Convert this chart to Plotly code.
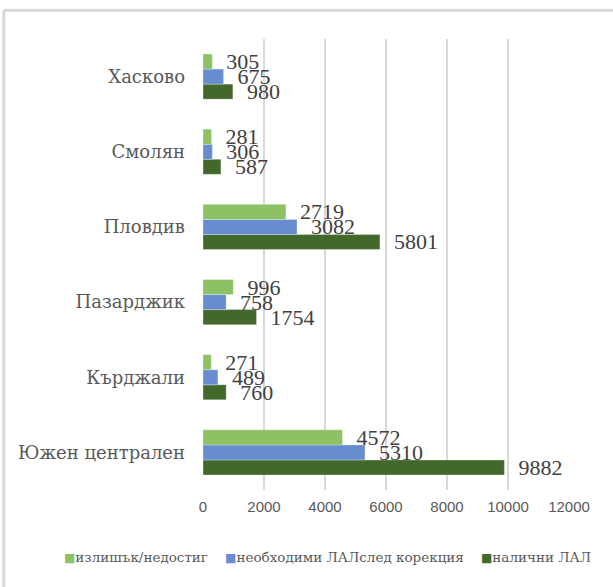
import plotly.graph_objects as go

# Данни (отгоре надолу в графиката: Хасково ... Южен централен)
regions = ["Южен централен", "Кърджали", "Пазарджик", "Пловдив", "Смолян", "Хасково"]
izlishak = [4572, 271, 996, 2719, 281, 305]
neobhodimi = [5310, 489, 758, 3082, 306, 675]
nalichni = [9882, 760, 1754, 5801, 587, 980]

x_ticks = [0, 2000, 4000, 6000, 8000, 10000, 12000]

SERIF = "Liberation Serif, Times New Roman, serif"
WIDE_SERIF = "DejaVu Serif, serif"
NBSP = "\u00a0"

series = [
    ("налични ЛАЛ", nalichni, "#43682b"),
    ("необходими ЛАЛслед корекция", neobhodimi, "#678ccf"),
    ("излишък/недостиг", izlishak, "#8dc165"),
]

fig = go.Figure()
for name, vals, color in series:
    fig.add_trace(go.Bar(
        y=regions, x=vals, name=name, orientation="h",
        marker=dict(color=color, line=dict(color="rgba(255,255,255,0.6)", width=0.5)),
        text=[str(v) for v in vals], texttemplate=NBSP * 2 + "%{text}",
        textposition="outside", constraintext="none", cliponaxis=False,
        textfont=dict(family=SERIF, size=22, color="#404040"),
        showlegend=False,
    ))

# легенда като текст (за да се събере на един ред, както в оригинала)
legend_parts = [
    f'<span style="color:{color};font-size:12px">■</span>{name}'
    for name, vals, color in reversed(series)
]
legend_text = (NBSP * 4).join(legend_parts)

fig.update_layout(
    width=613, height=587,
    margin=dict(l=203, r=44, t=39, b=97),
    paper_bgcolor="white", plot_bgcolor="white",
    barmode="group", bargap=0.4, bargroupgap=0,
    font=dict(family=SERIF, color="#595959"),
    xaxis=dict(
        range=[0, 12000], tickvals=x_ticks, tickformat="d", showgrid=True,
        gridcolor="#d9d9d9", gridwidth=1.5, zeroline=False,
        tickfont=dict(family="Liberation Sans, Arial, sans-serif", size=15, color="#595959"),
        ticklabelstandoff=6, automargin=False,
    ),
    yaxis=dict(
        showgrid=False, zeroline=False,
        tickfont=dict(family=WIDE_SERIF, size=18, color="#595959"),
        ticklabelstandoff=17, automargin=False,
    ),
    annotations=[
        dict(text=legend_text, xref="paper", yref="paper", x=0.339, y=-0.1486,
             xanchor="center", yanchor="middle", showarrow=False,
             font=dict(family=WIDE_SERIF, size=13.5, color="#595959")),
    ],
    shapes=[
        # рамка на диаграмата (отрязана вдясно и отдолу)
        dict(type="line", xref="paper", yref="paper", x0=-0.544, x1=1.2, y0=1.064, y1=1.064,
             line=dict(color="#d9d9d9", width=3)),
        dict(type="line", xref="paper", yref="paper", x0=-0.544, x1=-0.544, y0=1.064, y1=-0.3,
             line=dict(color="#d9d9d9", width=3)),
    ],
)

fig.write_html(
    "out.html",
    config={"displayModeBar": False},
    post_script="document.body.style.margin='0';document.body.style.overflow='hidden';",
)
